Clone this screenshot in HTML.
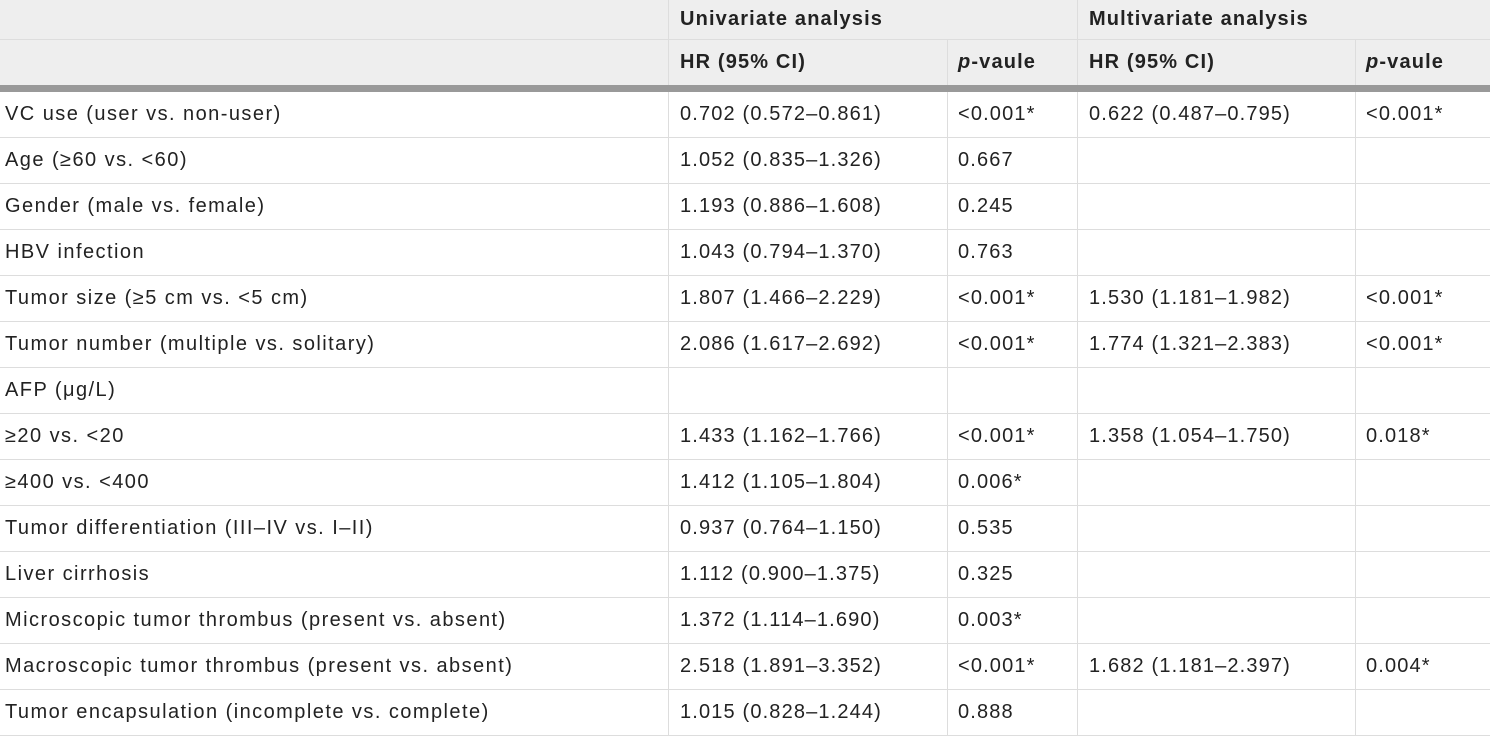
<!DOCTYPE html>
<html><head><meta charset="utf-8"><style>
body{margin:0;width:1490px;height:735px;overflow:hidden;background:#fff;font-family:"Liberation Sans",sans-serif;color:#222;font-size:20px;letter-spacing:1.15px}
.c{position:absolute;box-sizing:border-box;display:flex;align-items:center;white-space:nowrap}
.h{background:#eee;font-weight:bold}
.vl{position:absolute;width:1px;background:#ddd}
.hl{position:absolute;height:1px;left:0;width:1490px;background:#ddd}
</style></head><body>
<div style="position:absolute;left:0;top:0;width:1490px;height:85px;background:#eee"></div>
<div class="c h" style="left:680px;top:0;height:39px">Univariate analysis</div>
<div class="c h" style="left:1089px;top:0;height:39px">Multivariate analysis</div>
<div class="c h" style="left:680px;top:40px;height:45px">HR (95% CI)</div>
<div class="c h" style="left:958px;top:40px;height:45px"><i>p</i>-vaule</div>
<div class="c h" style="left:1089px;top:40px;height:45px">HR (95% CI)</div>
<div class="c h" style="left:1366px;top:40px;height:45px"><i>p</i>-vaule</div>
<div class="hl" style="top:39px"></div>
<div style="position:absolute;left:0;top:85px;width:1490px;height:7px;background:#999"></div>
<div id="rows"></div>
<div class="vl" style="left:668px;top:0;height:85px"></div>
<div class="vl" style="left:1077px;top:0;height:85px"></div>
<div class="vl" style="left:947px;top:40px;height:45px"></div>
<div class="vl" style="left:1355px;top:40px;height:45px"></div>
<script>
const rows=[
["VC use (user vs. non-user)","0.702 (0.572–0.861)","<0.001*","0.622 (0.487–0.795)","<0.001*"],
["Age (≥60 vs. <60)","1.052 (0.835–1.326)","0.667","",""],
["Gender (male vs. female)","1.193 (0.886–1.608)","0.245","",""],
["HBV infection","1.043 (0.794–1.370)","0.763","",""],
["Tumor size (≥5 cm vs. <5 cm)","1.807 (1.466–2.229)","<0.001*","1.530 (1.181–1.982)","<0.001*"],
["Tumor number (multiple vs. solitary)","2.086 (1.617–2.692)","<0.001*","1.774 (1.321–2.383)","<0.001*"],
["AFP (μg/L)","","","",""],
["≥20 vs. <20","1.433 (1.162–1.766)","<0.001*","1.358 (1.054–1.750)","0.018*"],
["≥400 vs. <400","1.412 (1.105–1.804)","0.006*","",""],
["Tumor differentiation (III–IV vs. I–II)","0.937 (0.764–1.150)","0.535","",""],
["Liver cirrhosis","1.112 (0.900–1.375)","0.325","",""],
["Microscopic tumor thrombus (present vs. absent)","1.372 (1.114–1.690)","0.003*","",""],
["Macroscopic tumor thrombus (present vs. absent)","2.518 (1.891–3.352)","<0.001*","1.682 (1.181–2.397)","0.004*"],
["Tumor encapsulation (incomplete vs. complete)","1.015 (0.828–1.244)","0.888","",""]];
const xs=[5,680,958,1089,1366];
const names=['variable','hr-uni','p-uni','hr-multi','p-multi'];
const R=document.getElementById('rows');
rows.forEach((r,i)=>{
  const top=92+i*46;
  r.forEach((t,j)=>{
    const d=document.createElement('div');
    d.className='c';
    
    
    d.style.left=xs[j]+'px';d.style.top=top+'px';d.style.height='45px';
    if(j===0) d.style.letterSpacing='1.45px';
    d.textContent=t;R.appendChild(d);
  });
  const l=document.createElement('div');l.className='hl';l.style.top=(top+45)+'px';R.appendChild(l);
  [668,947,1077,1355].forEach(x=>{const v=document.createElement('div');v.className='vl';v.style.left=x+'px';v.style.top=top+'px';v.style.height='46px';R.appendChild(v);});
});
</script>
</body></html>
